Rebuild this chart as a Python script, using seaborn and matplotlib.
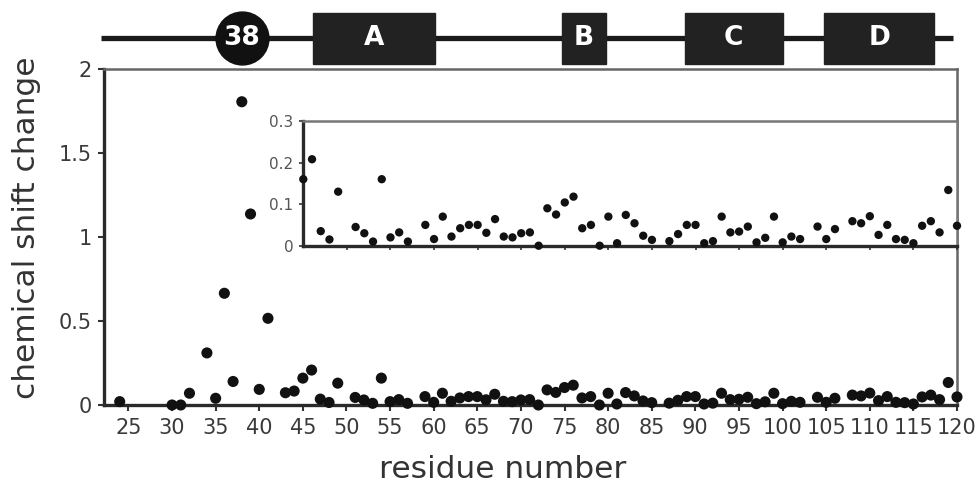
import numpy as np
import pandas as pd
import seaborn as sns
import matplotlib
matplotlib.use("Agg")
from matplotlib import pyplot as plt
from matplotlib.patches import Rectangle

sns.set_theme(style="white")
plt.rcParams['font.family'] = ['DejaVu Sans']

# residue numbers and chemical shift changes
residues = [24, 30, 31, 32, 34, 35, 36, 37, 38, 39, 40, 41, 43, 44,
            45, 46, 47, 48, 49, 51, 52, 53, 54, 55, 56, 57, 59, 60,
            61, 62, 63, 64, 65, 66, 67, 68, 69, 70, 71, 72, 73, 74,
            75, 76, 77, 78, 79, 80, 81, 82, 83, 84, 85, 87, 88, 89,
            90, 91, 92, 93, 94, 95, 96, 97, 98, 99, 100, 101, 102, 104,
            105, 106, 108, 109, 110, 111, 112, 113, 114, 115, 116, 117, 118, 119,
            120]
shifts = [0.02, 0.0, 0.0, 0.07, 0.31, 0.04, 0.665, 0.14, 1.805, 1.137, 0.093, 0.516, 0.073, 0.083,
          0.16, 0.208, 0.035, 0.015, 0.13, 0.045, 0.03, 0.01, 0.16, 0.02, 0.032, 0.01, 0.05, 0.016,
          0.07, 0.022, 0.042, 0.05, 0.05, 0.031, 0.064, 0.022, 0.02, 0.03, 0.032, 0.0, 0.09, 0.075,
          0.104, 0.118, 0.042, 0.05, 0.0, 0.07, 0.006, 0.074, 0.054, 0.024, 0.014, 0.011, 0.028, 0.05,
          0.05, 0.006, 0.011, 0.07, 0.032, 0.034, 0.046, 0.008, 0.019, 0.07, 0.008, 0.022, 0.016, 0.046,
          0.016, 0.04, 0.059, 0.054, 0.071, 0.026, 0.05, 0.016, 0.014, 0.006, 0.048, 0.059, 0.032, 0.134,
          0.048]

# secondary structure elements on top
domain_names = ["A", "B", "C", "D"]
domain_start = [46.2, 74.7, 88.8, 104.8]
domain_end = [60.2, 79.7, 100.0, 117.4]
site_label = "38"
site_residue = 38
chain_start, chain_end = 21.8, 119.5

main_ticks = list(range(25, 121, 5))
main_yticks = [0, 0.5, 1, 1.5, 2]
main_yticklabels = ["0", "0.5", "1", "1.5", "2"]
inset_yticks = [0, 0.1, 0.2, 0.3]
inset_yticklabels = ["0", "0.1", "0.2", "0.3"]

df = pd.DataFrame({"residue": residues, "shift": shifts})

W, H = 980, 497
fig = plt.figure(figsize=(W / 100, H / 100), dpi=100)

L, R, T, B = 104, 957, 69, 405
ax = fig.add_axes([L / W, 1 - B / H, (R - L) / W, (B - T) / H])
sns.scatterplot(data=df, x="residue", y="shift", ax=ax, color="#111111",
                s=64, edgecolor="none", clip_on=False, zorder=3)
ax.set_xlim(22.2, 120)
ax.set_ylim(0, 2)
ax.set_xticks(main_ticks)
ax.set_xticklabels([str(t) for t in main_ticks])
ax.set_yticks(main_yticks)
ax.set_yticklabels(main_yticklabels)
ax.tick_params(axis="both", direction="out", length=4, width=1.5, color="#333333",
               labelsize=15, labelcolor="#3a3a3a", pad=5, bottom=True, left=True)
for side in ["left", "bottom"]:
    ax.spines[side].set_linewidth(2.4)
    ax.spines[side].set_color("#2a2a2a")
for side in ["top", "right"]:
    ax.spines[side].set_linewidth(1.8)
    ax.spines[side].set_color("#666666")
ax.set_xlabel("residue number", fontsize=22.5, color="#333333")
ax.set_ylabel("chemical shift change", fontsize=22.5, color="#333333")
ax.xaxis.set_label_coords(0.467, -0.15)
ax.yaxis.set_label_coords(-0.074, 0.527)

# inset
iL, iR, iT, iB = 303.3, 957, 121, 245.7
axi = fig.add_axes([iL / W, 1 - iB / H, (iR - iL) / W, (iB - iT) / H])
axi.set_facecolor("white")
sub = df[df["residue"] >= 45]
sns.scatterplot(data=sub, x="residue", y="shift", ax=axi, color="#111111",
                s=36, edgecolor="none", clip_on=False, zorder=3)
axi.set_xlim(45, 120)
axi.set_ylim(0, 0.3)
axi.set_xticks(list(range(50, 121, 5)))
axi.set_xticklabels([])
axi.set_yticks(inset_yticks)
axi.set_yticklabels(inset_yticklabels)
axi.set_xlabel("")
axi.set_ylabel("")
axi.tick_params(axis="both", direction="out", length=3, width=1.2, color="#333333",
                labelsize=11, labelcolor="#555555", pad=4, bottom=True, left=True)
for side in ["left", "bottom"]:
    axi.spines[side].set_linewidth(2.4)
    axi.spines[side].set_color("#2a2a2a")
for side in ["top", "right"]:
    axi.spines[side].set_linewidth(1.8)
    axi.spines[side].set_color("#777777")

# secondary structure strip
axt = fig.add_axes([L / W, 1 - T / H, (R - L) / W, T / H])
axt.set_xlim(22.2, 120)
axt.set_ylim(0, T)
axt.axis("off")
axt.plot([chain_start, chain_end], [31, 31], color="#1a1a1a", lw=3.8,
         solid_capstyle="butt", clip_on=False, zorder=1)
for name, s, e in zip(domain_names, domain_start, domain_end):
    axt.add_patch(Rectangle((s, 5), e - s, 51, facecolor="#222222",
                            edgecolor="#222222", clip_on=False, zorder=2))
    axt.text((s + e) / 2, 31, name, color="white", fontsize=19, fontweight="bold",
             ha="center", va="center", zorder=3)
axt.scatter([site_residue], [31], s=1450, color="#111111", zorder=2, clip_on=False)
axt.text(site_residue, 31, site_label, color="white", fontsize=19, fontweight="bold",
         ha="center", va="center", zorder=3)

fig.savefig("out.png", dpi=100)
